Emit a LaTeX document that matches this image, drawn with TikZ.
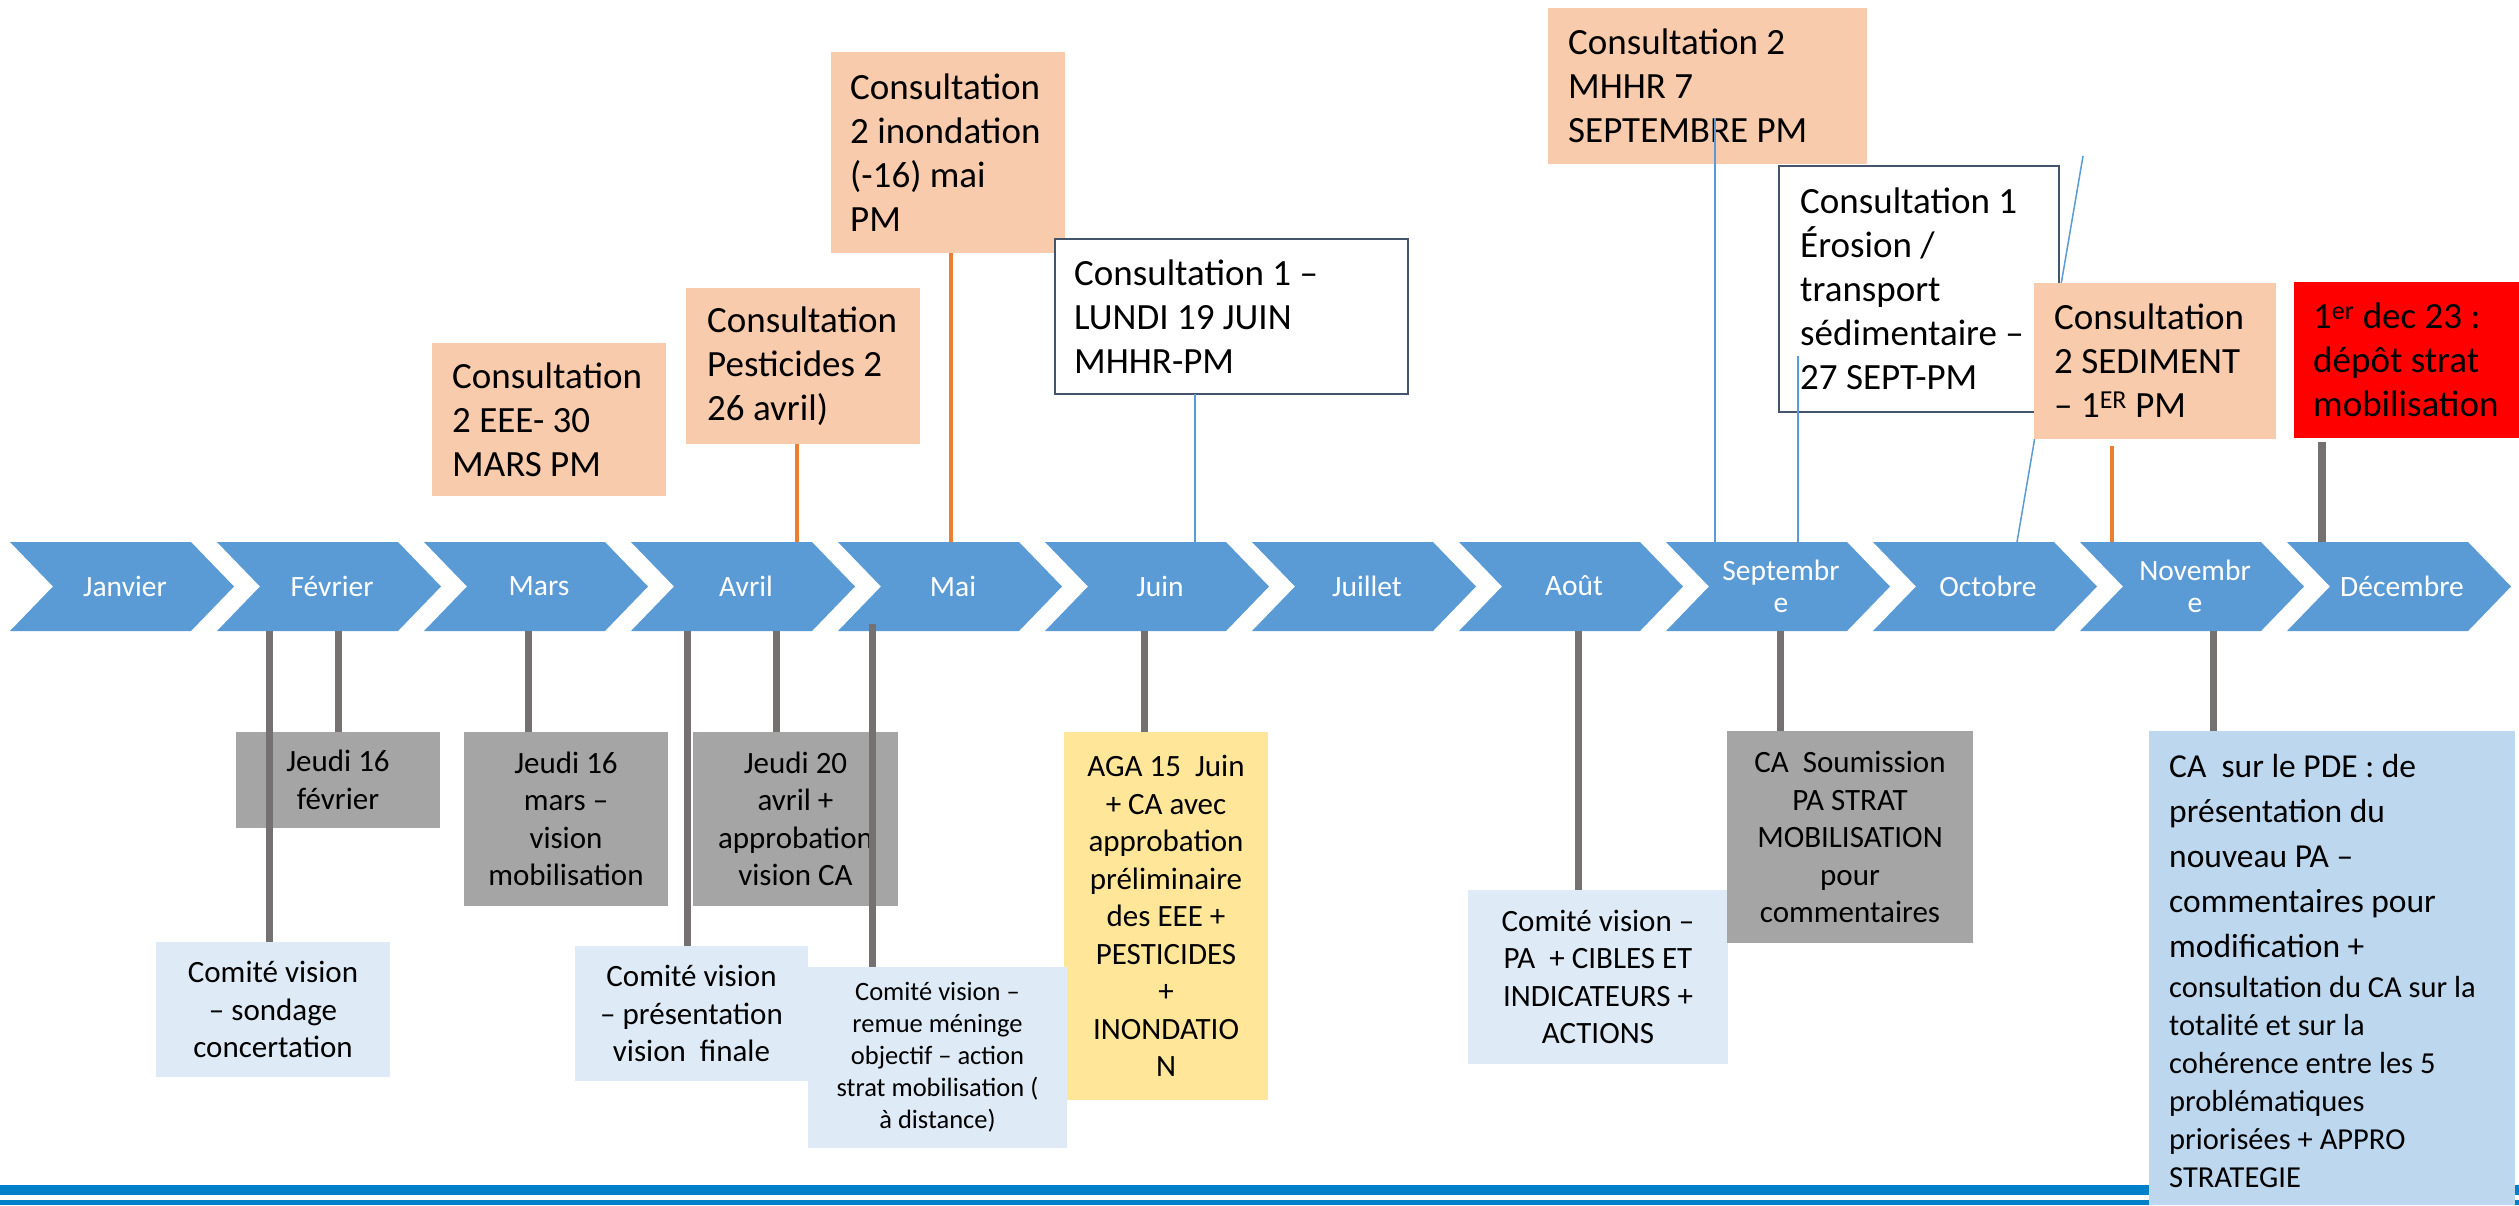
\documentclass[tikz,border=0pt]{standalone}
\usepackage{fontspec}
\setmainfont{Carlito}
\definecolor{chevc}{RGB}{91,155,213}
\definecolor{peachc}{RGB}{248,203,173}
\definecolor{redc}{RGB}{255,0,0}
\definecolor{greyboxc}{RGB}{165,165,165}
\definecolor{lightc}{RGB}{222,235,247}
\definecolor{yellowc}{RGB}{255,230,153}
\definecolor{pdec}{RGB}{189,215,238}
\definecolor{bandc}{RGB}{0,128,201}
\definecolor{borderc}{RGB}{68,84,106}
\definecolor{stemgreyc}{RGB}{118,113,113}
\definecolor{orangec}{RGB}{237,125,49}
\definecolor{thinbluec}{RGB}{91,155,213}
\newcommand\myFtop{\fontsize{37}{44}\selectfont}
\newcommand\myFbot{\fontsize{31}{37.5}\selectfont}
\newcommand\myFsm{\fontsize{26.5}{32}\selectfont}
\newcommand\myFmon{\fontsize{29.5}{32}\selectfont}
\newcommand\myFpdeA{\fontsize{33.5}{45}\selectfont}
\newcommand\myFpdeB{\fontsize{30.5}{38}\selectfont}
\begin{document}
\begin{tikzpicture}[x=1pt,y=-1pt,
  box/.style={anchor=north west, inner sep=0pt, outer sep=0pt},
  wbox/.style={box, fill=white, draw=borderc, line width=2.5pt},
  ttop/.style={inner sep=0pt, align=left, font=\myFtop, text=black, anchor=west},
  tbot/.style={inner sep=0pt, align=center, font=\myFbot, text=black},
  tsm/.style={inner sep=0pt, align=center, font=\myFsm, text=black},
  month/.style={inner sep=0pt, align=center, font=\myFmon, text=white},
  chev/.style={fill=chevc},
  gstem/.style={draw=stemgreyc, line width=7pt},
  ostem/.style={draw=orangec, line width=4pt},
  bstem/.style={draw=thinbluec, line width=1.5pt}]
\useasboundingbox (0,0) rectangle (2519,1205);
\fill[white] (0,0) rectangle (2519,1205);
% bottom bands
\fill[bandc] (0,1185) rectangle (2519,1195);
\fill[bandc] (0,1200) rectangle (2519,1205);
% chevrons
\coordinate (ctop) at (0,542);
\coordinate (cbot) at (0,631);
\foreach \i/\nm in {0/Janvier,1/Février,2/Mars,3/Avril,4/Mai,5/Juin,6/Juillet,7/Août,8/{Septembr\\e},9/Octobre,10/{Novembr\\e},11/Décembre}{
  \fill[chev] ({10+207*\i},542) -- ++(181,0) -- ++(43,44.5) -- ++(-43,44.5) -- ++(-181,0) -- ++(43,-44.5) -- cycle;
  \node[month] (m\i) at ({125+207*\i},586) {\nm};
}
% ---------- top boxes ----------
\node[box, fill=peachc, minimum width=234pt, minimum height=153pt] (eee) at (432,343) {};
\node[ttop] (eeet) at ([xshift=20pt]eee.west) {Consultation\\2 EEE- 30\\MARS PM};
\node[box, fill=peachc, minimum width=234pt, minimum height=156pt] (pest) at (686,288) {};
\node[ttop] (pestt) at ([xshift=21pt]pest.west) {Consultation\\Pesticides 2\\26 avril)};
\node[box, fill=peachc, minimum width=234pt, minimum height=201pt] (inon) at (831,52) {};
\node[ttop] (inont) at ([xshift=19pt]inon.west) {Consultation\\2 inondation\\(-16) mai\\PM};
\coordinate (s1) at (797,0);
\draw[ostem] (s1 |- pest.south) -- (s1 |- ctop);
\coordinate (s2) at (951,0);
\draw[ostem] (s2 |- inon.south) -- (s2 |- ctop);
\node[wbox, minimum width=353pt, minimum height=155pt] (lundi) at (1055,239) {};
\node[ttop] (lundit) at ([xshift=19pt]lundi.west) {Consultation 1 –\\LUNDI 19 JUIN\\MHHR-PM};
\coordinate (s3) at (1195,0);
\draw[bstem] (s3 |- lundi.south) -- (s3 |- ctop);
\node[box, fill=peachc, minimum width=319pt, minimum height=156pt] (mhhr) at (1548,8) {};
\node[ttop] (mhhrt) at ([xshift=20pt]mhhr.west) {Consultation 2\\MHHR 7\\SEPTEMBRE PM};
\coordinate (s4) at (1715,118);
\draw[bstem] (s4) -- (s4 |- ctop);
\node[wbox, minimum width=280pt, minimum height=246pt] (eros) at (1779,166) {};
\node[ttop] (erost) at ([xshift=21pt]eros.west) {Consultation 1\\Érosion /\\transport\\sédimentaire –\\27 SEPT-PM};
\coordinate (s5) at (1798,356);
\draw[bstem] (s5) -- (s5 |- ctop);
\coordinate (d1) at (2083,156);
\coordinate (d2) at (2017,542);
\draw[bstem] (d1) -- (d2);
\node[box, fill=peachc, minimum width=242pt, minimum height=156pt] (sedi) at (2034,283) {};
\node[ttop] (sedit) at ([xshift=20pt]sedi.west) {Consultation\\2 SEDIMENT\\– 1\textsuperscript{ER} PM};
\coordinate (s6) at (2112,446);
\draw[ostem] (s6) -- (s6 |- ctop);
\node[box, fill=redc, minimum width=225pt, minimum height=156pt] (dec) at (2294,282) {};
\node[ttop] (dect) at ([xshift=19pt]dec.west) {1\textsuperscript{er} dec 23 :\\dépôt strat\\mobilisation};
\coordinate (s7) at (2322,442);
\draw[gstem, line width=8pt] (s7) -- (s7 |- ctop);
% ---------- bottom boxes ----------
\node[box, fill=greyboxc, minimum width=204pt, minimum height=96pt] (fev) at (236,732) {};
\node[tbot] (fevt) at (fev.center) {Jeudi 16\\février};
\node[box, fill=greyboxc, minimum width=204pt, minimum height=174pt] (mars) at (464,732) {};
\node[tbot] (marst) at (mars.center) {Jeudi 16\\mars –\\vision\\mobilisation};
\node[box, fill=greyboxc, minimum width=205pt, minimum height=174pt] (avr) at (693,732) {};
\node[tbot] (avrt) at (avr.center) {Jeudi 20\\avril +\\approbation\\vision CA};
\node[box, fill=lightc, minimum width=234pt, minimum height=135pt] (cv1) at (156,942) {};
\node[tbot] (cv1t) at (cv1.center) {Comité vision\\– sondage\\concertation};
\node[box, fill=lightc, minimum width=233pt, minimum height=135pt] (cv2) at (575,946) {};
\node[tbot] (cv2t) at (cv2.center) {Comité vision\\– présentation\\vision~~finale};
\node[box, fill=yellowc, minimum width=204pt, minimum height=368pt] (aga) at (1064,732) {};
\node[tbot] (agat) at (aga.center) {AGA 15~~Juin\\+ CA avec\\approbation\\préliminaire\\des EEE +\\PESTICIDES\\+\\INONDATIO\\N};
\node[box, fill=lightc, minimum width=259pt, minimum height=181pt] (cv3) at (808,967) {};
\node[tsm] (cv3t) at (cv3.center) {Comité vision –\\remue méninge\\objectif – action\\strat mobilisation (\\à distance)};
\node[box, fill=lightc, minimum width=260pt, minimum height=174pt] (cv4) at (1468,890) {};
\node[tbot] (cv4t) at (cv4.center) {Comité vision –\\PA~~+ CIBLES ET\\INDICATEURS +\\ACTIONS};
\node[box, fill=greyboxc, minimum width=246pt, minimum height=212pt] (sou) at (1727,731) {};
\node[tbot] (sout) at (sou.center) {CA~~Soumission\\PA STRAT\\MOBILISATION\\pour\\commentaires};
\node[box, fill=pdec, minimum width=366pt, minimum height=474pt] (pde) at (2149,731) {};
\node[inner sep=0pt, align=left, font=\myFpdeA, anchor=north west] (pdeta) at (2169,745.5) {\strut CA~~sur le PDE : de\\présentation du\\nouveau PA –\\commentaires pour\\modification +};
\node[inner sep=0pt, align=left, font=\myFpdeB, anchor=north west] (pdetb) at (2169,970.4) {\strut consultation du CA sur la\\totalité et sur la\\cohérence entre les 5\\problématiques\\priorisées + APPRO\\STRATEGIE};
% ---------- bottom stems ----------
\coordinate (b1) at (269,0);
\draw[gstem] (b1 |- cbot) -- (b1 |- cv1.north);
\coordinate (b2) at (338,0);
\draw[gstem] (b2 |- cbot) -- (b2 |- fev.north);
\coordinate (b3) at (528,0);
\draw[gstem] (b3 |- cbot) -- (b3 |- mars.north);
\coordinate (b4) at (687,0);
\draw[gstem] (b4 |- cbot) -- (b4 |- cv2.north);
\coordinate (b5) at (776,0);
\draw[gstem] (b5 |- cbot) -- (b5 |- avr.north);
\coordinate (b6) at (872,624);
\draw[gstem] (b6) -- (b6 |- cv3.north);
\coordinate (b7) at (1144,0);
\draw[gstem] (b7 |- cbot) -- (b7 |- aga.north);
\coordinate (b8) at (1578,0);
\draw[gstem] (b8 |- cbot) -- (b8 |- cv4.north);
\coordinate (b9) at (1780,0);
\draw[gstem] (b9 |- cbot) -- (b9 |- sou.north);
\coordinate (b10) at (2213,0);
\draw[gstem] (b10 |- cbot) -- (b10 |- pde.north);
\end{tikzpicture}
\end{document}
